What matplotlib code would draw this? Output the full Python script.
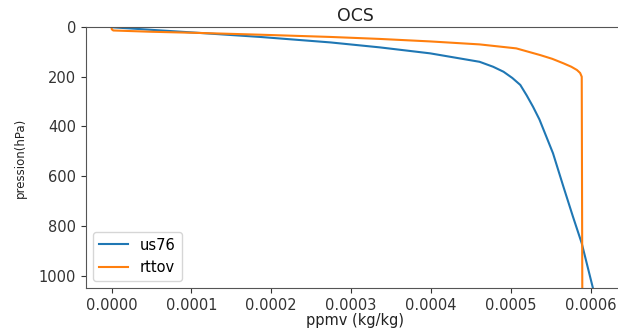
import numpy as np
from matplotlib import pyplot as plt

# profiles (ppmv in kg/kg, pressure in hPa)
us76_x = [0.0, 4.8e-5, 1.11e-4, 1.86e-4, 2.74e-4, 3.36e-4, 3.99e-4, 4.61e-4, 4.78e-4,
          4.91e-4, 5.02e-4, 5.12e-4, 5.20e-4, 5.28e-4, 5.36e-4, 5.43e-4, 5.53e-4, 5.66e-4,
          5.78e-4, 5.89e-4, 6.03e-4]
us76_p = [1, 11, 24, 40, 62, 82, 106, 140, 160,
          180, 205, 233, 275, 321, 372, 428, 508, 642,
          763, 870, 1050]

rttov_x = [0.0, 0.0, 2.0e-6, 4.8e-5, 1.11e-4, 1.86e-4, 2.74e-4, 3.36e-4, 3.99e-4,
           4.61e-4, 5.07e-4, 5.37e-4, 5.52e-4, 5.66e-4, 5.76e-4, 5.83e-4, 5.87e-4,
           5.89e-4, 5.897e-4]
rttov_p = [3, 9, 14, 19, 24, 31, 40, 48, 58,
           70, 86, 113, 128, 146, 160, 173, 185,
           200, 1050]

x_ticks = [0.0, 0.0001, 0.0002, 0.0003, 0.0004, 0.0005, 0.0006]
x_ticklabels = ["0.0000", "0.0001", "0.0002", "0.0003", "0.0004", "0.0005", "0.0006"]
y_ticks = [0, 200, 400, 600, 800, 1000]

fig = plt.figure(figsize=(6.18, 3.29), dpi=100)
ax = fig.add_axes([86 / 618, 41 / 329, (624 - 86) / 618, 261 / 329])

ax.plot(us76_x, us76_p, label="us76")
ax.plot(rttov_x, rttov_p, label="rttov")

ax.set_xlim(-0.0000322, (624 - 111.7) * 1.2531e-6)
ax.set_ylim(1050, 0)
ax.set_xticks(x_ticks)
ax.set_xticklabels(x_ticklabels)
ax.set_yticks(y_ticks)
ax.tick_params(labelsize=10.5, colors="#333333")
for s in ax.spines.values():
    s.set_color("#555555")
ax.spines["right"].set_visible(False)

ax.set_title("OCS", fontsize=12.5, pad=4, color="#222222")
ax.set_xlabel("ppmv (kg/kg)", fontsize=10.5, labelpad=0, color="#222222")
ax.set_ylabel("pression(hPa)", fontsize=8.5, labelpad=9, color="#222222")
ax.legend(loc="lower left", fontsize=10.5)

plt.savefig("out.png", dpi=100)
